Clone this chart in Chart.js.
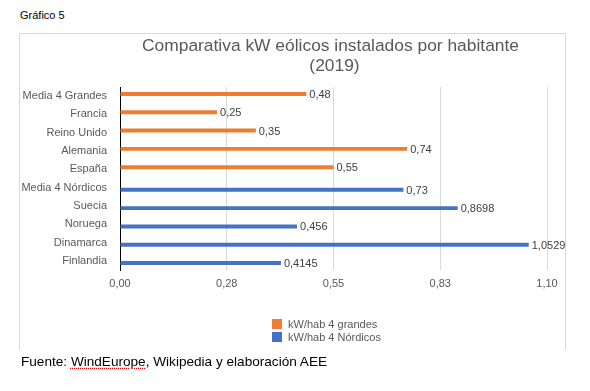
<!DOCTYPE html>
<html>
<head>
<meta charset="utf-8">
<script src="https://cdn.jsdelivr.net/npm/chart.js@4.4.1/dist/chart.umd.min.js"></script>
<style>
  html, body { margin: 0; padding: 0; background: #fff; }
  body { width: 590px; height: 391px; position: relative; overflow: hidden; font-family: "Liberation Sans", Arial, sans-serif; }
  #hdr { position: absolute; left: 20px; top: 9px; font-size: 11px; color: #000; }
  #box { position: absolute; left: 19px; top: 33px; width: 547px; height: 317px; border: 1px solid #d9d9d9; border-bottom: none; box-sizing: border-box; }
  #src { position: absolute; left: 21px; top: 354px; font-size: 13.6px; color: #000; }
  #src u { text-decoration: underline dotted #e00; text-underline-offset: 2px; }
  #wrap { position: absolute; left: 0; top: 0; width: 590px; height: 391px; }
</style>
</head>
<body>
<div id="hdr">Gráfico 5</div>
<div id="box"></div>
<div id="wrap"><canvas id="c" width="590" height="391"></canvas></div>
<div id="src">Fuente: <u>WindEurope</u>, Wikipedia y elaboración AEE</div>
<script>
const categories = ["Media 4 Grandes", "Francia", "Reino Unido", "Alemania", "España",
                    "Media 4 Nórdicos", "Suecia", "Noruega", "Dinamarca", "Finlandia"];
const grandes  = [0.48, 0.25, 0.35, 0.74, 0.55, null, null, null, null, null];
const nordicos = [null, null, null, null, null, 0.73, 0.8698, 0.456, 1.0529, 0.4145];
const seriesNames = ["kW/hab 4 grandes", "kW/hab 4 Nórdicos"];
const tickValues = [0, 0.275, 0.55, 0.825, 1.1];
const tickLabels = ["0,00", "0,28", "0,55", "0,83", "1,10"];
const titleLines = ["Comparativa kW eólicos instalados por habitante", "(2019)"];

const FONT = '"Liberation Sans", Arial, sans-serif';

const extras = {
  id: 'extras',
  afterDatasetsDraw(chart) {
    const ctx = chart.ctx;
    ctx.save();
    // value labels
    ctx.font = '11px ' + FONT;
    ctx.fillStyle = '#404040';
    ctx.textAlign = 'left';
    ctx.textBaseline = 'middle';
    chart.data.datasets.forEach((ds, di) => {
      const meta = chart.getDatasetMeta(di);
      meta.data.forEach((el, i) => {
        const v = ds.data[i];
        if (v === null || v === undefined) return;
        ctx.fillText(String(v).replace('.', ','), el.x + 3, el.y + 1);
      });
    });
    // title centred over plot area
    const ca = chart.chartArea;
    const cx = (ca.left + ca.right) / 2 - 3;
    ctx.font = '17.4px ' + FONT;
    ctx.fillStyle = '#595959';
    ctx.textAlign = 'center';
    ctx.fillText(titleLines[0], cx, 46);
    ctx.fillText(titleLines[1], cx + 4, 66);
    // legend
    ctx.font = '11px ' + FONT;
    ctx.textAlign = 'left';
    chart.data.datasets.forEach((ds, di) => {
      const y = 319 + di * 13;
      ctx.fillStyle = ds.backgroundColor;
      ctx.fillRect(272, y, 10, 10);
      ctx.fillStyle = '#595959';
      ctx.fillText(ds.label, 288, y + 5.5);
    });
    ctx.restore();
  }
};

new Chart(document.getElementById('c'), {
  type: 'bar',
  data: {
    labels: categories,
    datasets: [
      { label: seriesNames[0], data: grandes, backgroundColor: '#ED7D31', barPercentage: 0.9, categoryPercentage: 0.48 },
      { label: seriesNames[1], data: nordicos, backgroundColor: '#4472C4', barPercentage: 0.9, categoryPercentage: 0.48 }
    ]
  },
  options: {
    indexAxis: 'y',
    responsive: false,
    animation: false,
    devicePixelRatio: 1,
    layout: { padding: { left: 19, top: 87, right: 43, bottom: 91 } },
    plugins: { legend: { display: false }, title: { display: false }, tooltip: { enabled: false } },
    scales: {
      x: {
        min: 0, max: 1.1,
        afterBuildTicks: (s) => { s.ticks = tickValues.map(v => ({ value: v })); },
        afterFit: (s) => { s.height = 30; },
        grid: { color: '#d9d9d9', drawTicks: false },
        border: { display: false },
        ticks: {
          padding: 7,
          color: '#595959',
          font: { family: FONT, size: 11 },
          callback: (v, i) => tickLabels[i]
        }
      },
      y: {
        afterFit: (s) => { s.width = 101; },
        grid: { display: false, drawTicks: false },
        border: { display: true, color: '#000', width: 1 },
        ticks: {
          padding: 13,
          color: '#595959',
          font: { family: FONT, size: 11 }
        }
      }
    }
  },
  plugins: [extras]
});
</script>
</body>
</html>
